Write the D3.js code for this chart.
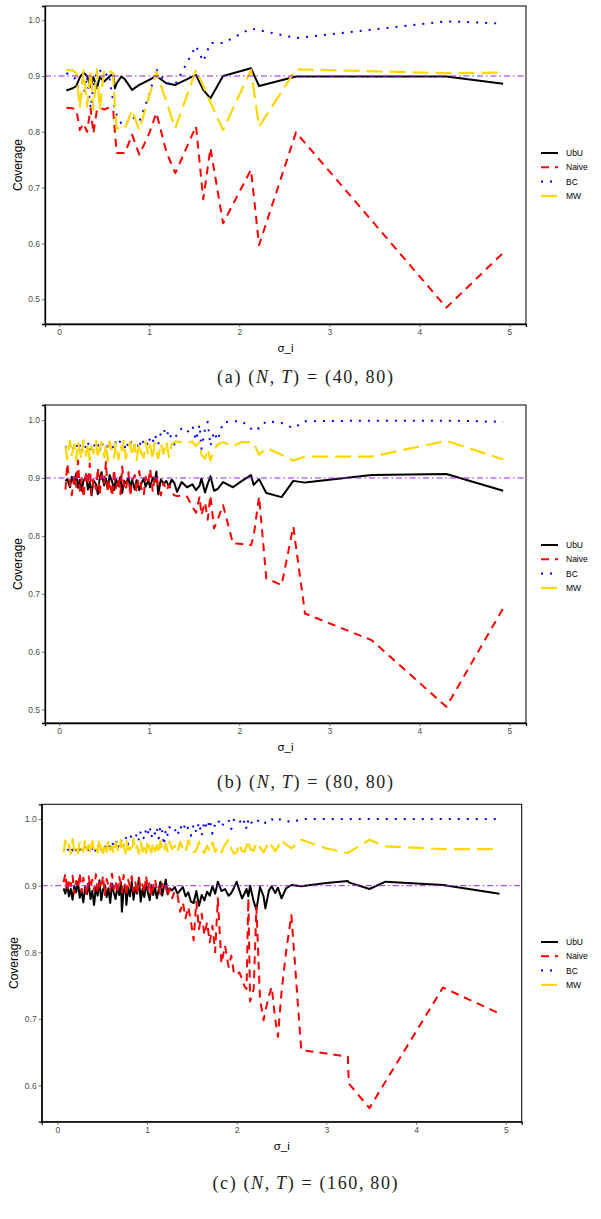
<!DOCTYPE html>
<html><head><meta charset="utf-8">
<script src="https://cdn.jsdelivr.net/npm/d3@7"></script>
<style>body{margin:0;background:#fff}</style>
</head><body><svg id="chart" width="601" height="1219"></svg>
<script>
// ---------------- DATA ----------------
const seriesNames = ["UbU", "Naive", "BC", "MW"];
const xTicks = [0, 1, 2, 3, 4, 5];
const yTicksAB = [0.5, 0.6, 0.7, 0.8, 0.9, 1.0];
const yTicksC = [0.6, 0.7, 0.8, 0.9, 1.0];
const targetLevel = 0.9;
const captionsText = [["(a) ", "(40,", "80)"], ["(b) ", "(80,", "80)"], ["(c) ", "(160,", "80)"]];

// Panel (a): (N,T) = (40,80)
const aSigma = [0.08,0.15,0.19,0.23,0.27,0.31,0.35,0.38,0.42,0.45,0.50,0.55,0.60,0.62,0.64,0.69,0.73,0.81,0.89,1.00,1.08,1.19,1.29,1.52,1.60,1.68,1.82,2.13,2.22,2.63,4.30,4.93];
const aUbU   = [0.874,0.878,0.882,0.898,0.906,0.900,0.880,0.898,0.878,0.898,0.890,0.898,0.904,0.878,0.887,0.899,0.894,0.875,0.884,0.893,0.900,0.887,0.884,0.902,0.875,0.860,0.900,0.914,0.882,0.899,0.899,0.886];
const aNaive = [0.843,0.842,0.840,0.803,0.815,0.800,0.842,0.797,0.840,0.843,0.840,0.843,0.840,0.797,0.762,0.762,0.762,0.795,0.759,0.797,0.834,0.764,0.726,0.810,0.679,0.771,0.636,0.732,0.597,0.799,0.485,0.583];
const aBC    = [0.905,0.900,0.893,0.869,0.863,0.900,0.842,0.880,0.910,0.911,0.900,0.905,0.854,0.842,0.830,0.815,0.812,0.827,0.818,0.866,0.912,0.887,0.885,0.954,0.926,0.959,0.959,0.985,0.982,0.968,0.998,0.994];
const aMW    = [0.911,0.910,0.905,0.843,0.910,0.845,0.910,0.840,0.912,0.840,0.912,0.910,0.905,0.840,0.806,0.806,0.806,0.839,0.803,0.864,0.908,0.855,0.806,0.911,0.882,0.853,0.803,0.911,0.809,0.912,0.905,0.906];

// Panel (b): (N,T) = (80,80)
const bSigma = [0.07,0.09,0.12,0.14,0.17,0.19,0.21,0.23,0.25,0.27,0.30,0.32,0.34,0.36,0.38,0.41,0.43,0.45,0.47,0.50,0.52,0.54,0.56,0.59,0.61,0.63,0.66,0.68,0.70,0.72,0.74,0.77,0.79,0.81,0.84,0.86,0.89,0.91,0.94,0.96,0.99,1.01,1.04,1.06,1.08,1.10,1.13,1.16,1.19,1.22,1.25,1.28,1.31,
  1.36,1.42,1.48,1.52,1.56,1.58,1.62,1.65,1.68,1.72,1.76,1.82,1.93,2.03,2.13,2.16,2.22,2.30,2.47,2.60,2.73,3.47,4.30,4.93];
const bUbU = [0.895,0.898,0.884,0.902,0.890,0.908,0.883,0.897,0.878,0.895,0.903,0.880,0.893,0.870,0.896,0.889,0.872,0.900,0.910,0.887,0.899,0.881,0.905,0.893,0.879,0.898,0.886,0.902,0.874,0.895,0.891,0.900,0.883,0.897,0.880,0.896,0.879,0.890,0.899,0.885,0.896,0.884,0.901,0.893,0.911,0.872,0.898,0.890,0.895,0.885,0.897,0.891,0.876,
  0.893,0.884,0.889,0.879,0.887,0.899,0.875,0.890,0.903,0.878,0.881,0.893,0.884,0.895,0.905,0.888,0.898,0.874,0.867,0.895,0.892,0.905,0.907,0.878];
const bNaive = [0.880,0.925,0.890,0.870,0.905,0.885,0.930,0.878,0.900,0.866,0.912,0.888,0.925,0.872,0.898,0.880,0.918,0.870,0.905,0.890,0.928,0.875,0.896,0.868,0.915,0.882,0.900,0.872,0.920,0.886,0.878,0.910,0.869,0.895,0.905,0.875,0.912,0.884,0.870,0.902,0.890,0.916,0.876,0.898,0.905,0.885,0.870,0.892,0.878,0.888,0.875,0.870,0.869,
  0.869,0.868,0.850,0.840,0.868,0.836,0.858,0.828,0.870,0.813,0.828,0.853,0.787,0.786,0.784,0.800,0.868,0.727,0.715,0.816,0.666,0.620,0.505,0.675];
const bBC = [0.955,0.950,0.958,0.946,0.955,0.960,0.948,0.956,0.945,0.958,0.952,0.962,0.947,0.955,0.960,0.950,0.957,0.945,0.961,0.953,0.958,0.948,0.962,0.955,0.950,0.963,0.957,0.965,0.952,0.960,0.948,0.963,0.958,0.966,0.955,0.962,0.950,0.968,0.960,0.965,0.955,0.970,0.962,0.975,0.968,0.958,0.978,0.985,0.972,0.982,0.965,0.958,0.980,
  0.985,0.978,0.990,0.965,0.992,0.950,0.985,0.997,0.955,0.980,0.965,0.996,0.998,0.998,0.985,0.990,0.985,0.998,0.995,0.986,0.998,0.999,0.999,0.997];
const bMW = [0.955,0.932,0.964,0.940,0.958,0.930,0.962,0.945,0.933,0.965,0.938,0.960,0.931,0.955,0.942,0.964,0.934,0.950,0.962,0.936,0.958,0.930,0.963,0.944,0.935,0.960,0.932,0.956,0.947,0.964,0.933,0.952,0.962,0.938,0.958,0.931,0.960,0.944,0.935,0.963,0.940,0.957,0.932,0.962,0.948,0.934,0.960,0.942,0.963,0.936,0.958,0.962,0.963,
  0.962,0.960,0.963,0.955,0.962,0.940,0.933,0.950,0.930,0.948,0.958,0.962,0.955,0.962,0.962,0.960,0.940,0.952,0.940,0.930,0.937,0.937,0.964,0.932];

// Panel (c): (N,T) = (160,80)
const cSigma = [0.07,0.09,0.11,0.13,0.15,0.17,0.19,0.21,0.23,0.25,0.27,0.29,0.31,0.33,0.35,0.37,0.39,0.41,0.43,0.45,0.47,0.49,0.51,0.53,0.55,0.57,0.59,0.61,0.63,0.65,0.67,0.69,0.71,0.72,0.74,0.76,0.77,0.79,0.81,0.83,0.85,0.87,0.89,0.91,0.93,0.95,0.97,0.99,1.01,1.03,1.05,1.07,1.09,1.11,1.13,1.15,1.17,1.19,1.21,1.23,1.25,1.28,1.31,1.34,
  1.37,1.40,1.43,1.46,1.49,1.52,1.55,1.58,1.61,1.64,1.67,1.70,1.73,1.76,1.79,1.83,1.87,1.91,1.94,1.97,2.00,2.03,2.06,2.09,2.11,2.13,2.15,2.19,2.22,2.26,2.30,2.32,2.36,2.39,2.43,2.46,2.50,2.55,2.61,
  2.72,3.00,3.24,3.25,3.48,3.66,4.30,4.93];
const cUbU = [0.896,0.888,0.902,0.884,0.895,0.879,0.900,0.890,0.906,0.882,0.893,0.875,0.898,0.887,0.904,0.880,0.892,0.871,0.897,0.885,0.908,0.878,0.894,0.901,0.883,0.896,0.874,0.903,0.889,0.880,0.899,0.886,0.905,0.861,0.893,0.900,0.871,0.897,0.884,0.906,0.879,0.898,0.888,0.912,0.876,0.895,0.883,0.903,0.890,0.878,0.901,0.886,0.897,0.881,0.894,0.906,0.885,0.899,0.909,0.887,0.896,0.893,0.898,0.888,
  0.893,0.898,0.884,0.890,0.876,0.874,0.892,0.870,0.886,0.878,0.891,0.885,0.899,0.888,0.906,0.892,0.895,0.885,0.889,0.897,0.906,0.893,0.881,0.889,0.895,0.884,0.900,0.876,0.864,0.898,0.884,0.866,0.893,0.899,0.889,0.897,0.881,0.896,0.901,
  0.899,0.904,0.907,0.905,0.895,0.906,0.901,0.888];
const cNaive = [0.905,0.918,0.892,0.910,0.899,0.915,0.888,0.907,0.896,0.919,0.890,0.912,0.901,0.885,0.914,0.897,0.909,0.893,0.917,0.889,0.905,0.898,0.915,0.886,0.910,0.900,0.893,0.918,0.895,0.907,0.888,0.913,0.902,0.890,0.916,0.897,0.885,0.909,0.899,0.914,0.891,0.905,0.887,0.911,0.896,0.902,0.889,0.915,0.893,0.906,0.884,0.900,0.910,0.892,0.897,0.887,0.903,0.893,0.899,0.884,0.895,0.881,0.892,0.886,
  0.861,0.875,0.851,0.868,0.846,0.818,0.876,0.835,0.858,0.826,0.845,0.815,0.840,0.800,0.881,0.783,0.810,0.778,0.795,0.768,0.766,0.770,0.760,0.748,0.745,0.881,0.726,0.745,0.868,0.730,0.698,0.712,0.735,0.748,0.700,0.673,0.740,0.800,0.856,
  0.653,0.648,0.643,0.603,0.566,0.606,0.747,0.708];
const cBC = [0.955,0.952,0.958,0.950,0.956,0.953,0.959,0.951,0.957,0.954,0.960,0.949,0.956,0.962,0.952,0.958,0.955,0.961,0.950,0.957,0.963,0.954,0.960,0.956,0.965,0.952,0.961,0.967,0.958,0.963,0.969,0.957,0.966,0.971,0.960,0.968,0.974,0.962,0.970,0.977,0.965,0.972,0.979,0.968,0.982,0.975,0.970,0.985,0.978,0.989,0.973,0.983,0.978,0.987,0.971,0.990,0.981,0.961,0.985,0.976,0.988,0.982,0.985,0.975,
  0.990,0.982,0.994,0.985,0.975,0.992,0.980,0.995,0.975,0.997,0.985,0.999,0.978,0.993,0.999,0.988,0.997,0.999,0.985,0.999,0.996,0.999,0.990,0.998,0.985,0.999,0.992,0.999,0.996,0.999,0.999,0.994,0.999,1.000,0.996,0.999,1.000,0.998,0.995,
  1.000,1.000,1.000,1.000,1.000,1.000,1.000,1.000];
const cMW = [0.950,0.968,0.955,0.962,0.948,0.970,0.953,0.960,0.949,0.966,0.956,0.951,0.969,0.954,0.961,0.948,0.967,0.952,0.958,0.950,0.970,0.955,0.949,0.964,0.951,0.968,0.953,0.960,0.948,0.966,0.955,0.950,0.969,0.952,0.962,0.949,0.967,0.954,0.958,0.950,0.971,0.953,0.960,0.948,0.966,0.951,0.963,0.949,0.968,0.955,0.950,0.965,0.952,0.961,0.948,0.967,0.954,0.950,0.963,0.951,0.966,0.955,0.960,0.950,
  0.966,0.955,0.950,0.968,0.958,0.950,0.953,0.966,0.955,0.949,0.960,0.952,0.965,0.951,0.958,0.950,0.962,0.969,0.955,0.948,0.950,0.963,0.952,0.951,0.960,0.968,0.955,0.952,0.965,0.958,0.950,0.955,0.966,0.960,0.952,0.958,0.969,0.962,0.956,
  0.969,0.956,0.949,0.950,0.969,0.959,0.955,0.955];

// ---------------- LAYOUT / STYLE ----------------
const panels = [
  { x: aSigma, ys: [aUbU, aNaive, aBC, aMW], yTicks: yTicksAB,
    left: 45, right: 526, top: 6, bottom: 324,
    xDom: [-0.157, 5.184], yDom: [0.4556, 1.0254], legendY: 153, capY: 383, capW: 176 },
  { x: bSigma, ys: [bUbU, bNaive, bBC, bMW], yTicks: yTicksAB,
    left: 45, right: 526, top: 405, bottom: 723,
    xDom: [-0.157, 5.184], yDom: [0.477, 1.026], legendY: 545, capY: 788, capW: 176 },
  { x: cSigma, ys: [cUbU, cNaive, cBC, cMW], yTicks: yTicksC,
    left: 41.7, right: 521.7, top: 804.3, bottom: 1121.7,
    xDom: [-0.174, 5.178], yDom: [0.5456, 1.0222], legendY: 942, capY: 1189, capW: 185 }
];
const styles = [
  { color: "#000000", width: 2.0, dash: null },
  { color: "#FF0000", width: 2.0, dash: "8,6" },
  { color: "#0000FF", width: 2.0, dash: "2,7" },
  { color: "#FFD700", width: 2.2, dash: "16,7" }
];
const drawOrder = [0, 1, 2, 3];
const sans = "Liberation Sans, Arial, sans-serif";

const svg = d3.select("#chart");
svg.append("rect").attr("width", 601).attr("height", 1219).attr("fill", "#fff");

panels.forEach((p, pi) => {
  const g = svg.append("g");
  const x = d3.scaleLinear().domain(p.xDom).range([p.left, p.right]);
  const y = d3.scaleLinear().domain(p.yDom).range([p.bottom, p.top]);

  const clipId = "clip" + pi;
  g.append("clipPath").attr("id", clipId).append("rect")
    .attr("x", p.left).attr("y", p.top).attr("width", p.right - p.left).attr("height", p.bottom - p.top);

  // series lines
  const lines = g.append("g").attr("clip-path", `url(#${clipId})`);
  drawOrder.forEach(si => {
    const s = styles[si];
    const pts = p.x.map((xv, i) => [xv, p.ys[si][i]]);
    const line = d3.line().x(d => x(d[0])).y(d => y(d[1]));
    lines.append("path").datum(pts)
      .attr("d", line)
      .attr("fill", "none")
      .attr("stroke", s.color)
      .attr("stroke-width", s.width)
      .attr("stroke-linejoin", "round")
      .attr("stroke-linecap", "butt")
      .attr("stroke-dasharray", s.dash);
  });
  // reference line
  lines.append("line")
    .attr("x1", p.left).attr("x2", p.right)
    .attr("y1", y(targetLevel)).attr("y2", y(targetLevel))
    .attr("stroke", "#A020F0").attr("stroke-width", 1)
    .attr("stroke-dasharray", "6,3,1.5,3");

  // border
  g.append("rect").attr("x", p.left).attr("y", p.top)
    .attr("width", p.right - p.left).attr("height", p.bottom - p.top)
    .attr("fill", "none").attr("stroke", "#000").attr("stroke-width", 1);

  // axes
  const xAxis = d3.axisBottom(x).tickValues(xTicks).tickSize(3).tickPadding(2).tickFormat(d3.format("d"));
  const gx = g.append("g").attr("transform", `translate(0,${p.bottom})`).call(xAxis);
  const yAxis = d3.axisLeft(y).tickValues(p.yTicks).tickSize(3).tickPadding(2).tickFormat(d3.format(".1f"));
  const gy = g.append("g").attr("transform", `translate(${p.left},0)`).call(yAxis);
  [gx, gy].forEach(ax => {
    ax.select(".domain").attr("stroke", "#000").attr("stroke-width", 1.3);
    ax.selectAll(".tick line").attr("stroke", "#333").attr("stroke-width", 0.7);
    ax.selectAll(".tick text").attr("fill", "#4D4D4D").attr("font-family", sans).attr("font-size", 8.5);
  });

  // axis titles
  g.append("text").attr("x", (p.left + p.right) / 2).attr("y", p.bottom + 28)
    .attr("text-anchor", "middle").attr("font-family", sans)
    .attr("font-size", 11.5).attr("fill", "#000").text("σ_i");
  g.append("text")
    .attr("transform", `translate(${p.left - 23.5},${(p.top + p.bottom) / 2}) rotate(-90)`)
    .attr("text-anchor", "middle").attr("font-family", sans)
    .attr("font-size", 12).attr("fill", "#000").text("Coverage");

  // legend
  const lg = g.append("g").attr("transform", `translate(541,${p.legendY})`);
  seriesNames.forEach((name, i) => {
    const s = styles[i];
    const yy = i * 14.3;
    lg.append("line").attr("x1", 0).attr("x2", 17).attr("y1", yy).attr("y2", yy)
      .attr("stroke", s.color).attr("stroke-width", s.width)
      .attr("stroke-dasharray", s.dash);
    lg.append("text").attr("x", 25).attr("y", yy + 3)
      .attr("font-family", sans).attr("font-size", 8.5)
      .attr("fill", "#000").text(name);
  });

  // caption
  const cap = svg.append("text").attr("x", 305).attr("y", p.capY).attr("text-anchor", "middle")
    .attr("font-family", "Liberation Serif, Times New Roman, serif").attr("font-size", 18).attr("fill", "#222")
    .attr("textLength", p.capW).attr("lengthAdjust", "spacing");
  const ct = captionsText[pi];
  cap.append("tspan").text(ct[0] + "(");
  cap.append("tspan").attr("font-style", "italic").text("N");
  cap.append("tspan").text(",\u2009");
  cap.append("tspan").attr("font-style", "italic").text("T");
  cap.append("tspan").text(") = " + ct[1] + "\u2009" + ct[2]);
});
</script>
</body></html>
